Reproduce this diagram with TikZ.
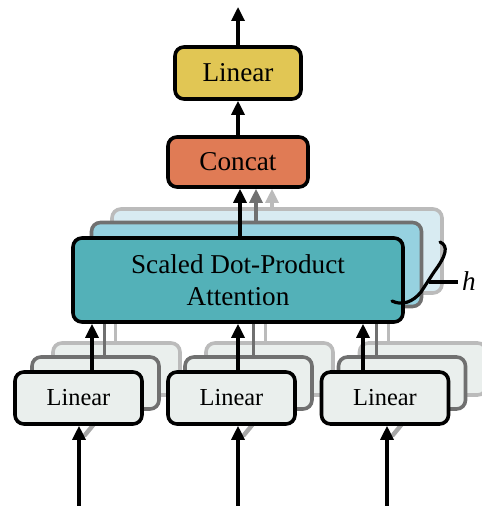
\documentclass[tikz,border=0pt]{standalone}
\usepackage{fontspec}
\setmainfont{Liberation Serif}
\usetikzlibrary{arrows.meta,calc}
\definecolor{linY}{HTML}{E1C654}
\definecolor{concatO}{HTML}{E07B55}
\definecolor{attF}{HTML}{53B1B8}
\definecolor{attM}{HTML}{96D1E0}
\definecolor{attB}{HTML}{D8EBF2}
\definecolor{lowF}{HTML}{EAEFED}
\definecolor{greyM}{HTML}{707070}
\definecolor{greyL}{HTML}{BBBBBB}
\begin{document}
\begin{tikzpicture}[x=0.5pt,y=-0.5pt,
  box/.style={draw, rounded corners=4.5pt, inner sep=0pt, line width=1.8pt},
  bigtxt/.style={font=\fontsize{13.6pt}{16pt}\selectfont},
  lowtxt/.style={font=\fontsize{12.2pt}{14pt}\selectfont},
  lowbox/.style={box, fill=lowF, minimum width=63.5pt, minimum height=26pt},
  attbox/.style={box, minimum width=165pt, minimum height=42pt},
  arr/.style={line width=1.6pt, -{Triangle[length=7pt,width=6.5pt]}},
  ln/.style={line width=1.5pt},
  smudge/.style={line width=2.2pt, black, opacity=0.35, line cap=round}
]
\useasboundingbox (0,0) rectangle (481,506);

% ---------- lower back Linear boxes ----------
\foreach \i/\x in {1/116.5, 2/269.5, 3/423} {
  \node[lowbox, draw=greyL] (lb\i) at (\x,369) {};
}
\coordinate (xb1) at (115,0);
\coordinate (xb2) at (265,0);
\coordinate (xb3) at (388,0);
% ---------- lower middle Linear boxes ----------
\foreach \i/\x in {1/95.5, 2/248.5, 3/402} {
  \node[lowbox, draw=greyM] (lm\i) at (\x,383) {};
}
\coordinate (xm1) at (104,0);
\coordinate (xm2) at (253,0);
\coordinate (xm3) at (376,0);

% attention boxes
\path (277,251) node[attbox, draw=greyL, fill=attB] (attb) {};
\draw[ln, greyL] (lb1.north -| xb1) -- (attb.south -| xb1);
\draw[ln, greyL] (lb2.north -| xb2) -- (attb.south -| xb2);
\draw[ln, greyL] (lb3.north -| xb3) -- (attb.south -| xb3);
\path (256.5,264.5) node[attbox, draw=greyM, fill=attM] (attm) {};
\draw[ln, greyM] (lm1.north -| xm1) -- (attm.south -| xm1);
\draw[ln, greyM] (lm2.north -| xm2) -- (attm.south -| xm2);
\draw[ln, greyM] (lm3.north -| xm3) -- (attm.south -| xm3);
\node[attbox, draw=black, fill=attF, bigtxt, align=center] (attf) at (238,280)
  {Scaled Dot-Product\\Attention};

% ---------- top part ----------
\node[box, fill=linY, minimum width=63pt, minimum height=26pt, bigtxt] (lintop) at (238,73) {Linear};
\node[box, fill=concatO, minimum width=70pt, minimum height=25pt, bigtxt] (concat) at (238,162) {Concat};
\coordinate (out) at (238,7);
\draw[arr] (lintop.north) -- (out);
\draw[arr] (concat.north) -- (lintop.south);
\coordinate (c1) at (240,0);
\coordinate (c2) at (256,0);
\coordinate (c3) at (272,0);
\draw[arr, greyL] (attb.north -| c3) -- (concat.south -| c3);
\draw[arr, greyM] (attm.north -| c2) -- (concat.south -| c2);
\draw[arr] (attf.north -| c1) -- (concat.south -| c1);

% ---------- h brace ----------
\coordinate (hb1) at (392,301);
\coordinate (hb2) at (440,242);
\coordinate (ht) at (458,282);
\coordinate (hm) at (429,282);
\draw[ln, line width=1.6pt, line cap=round] (hb1) .. controls (402,306) and (413,302) .. (421,292)
   -- (434,272) .. controls (446,256) and (449,246) .. (hb2);
\draw[ln, line width=1.6pt] (hm) -- (ht);
\node[font=\fontsize{13.6pt}{16pt}\selectfont\itshape] (hlab) at (469,281) {h};

% ---------- lower front Linear boxes ----------
\foreach \i/\x in {1/78.5, 2/231.5, 3/385} {
  \node[lowbox, draw=black, lowtxt] (lf\i) at (\x,398) {Linear};
}
\coordinate (xf1) at (92,0);
\coordinate (xf2) at (238,0);
\coordinate (xf3) at (363,0);
\foreach \i in {1,2,3} {
  \draw[arr] (lf\i.north -| xf\i) -- (attf.south -| xf\i);
}
% inputs
\coordinate (in1) at (79,506);
\coordinate (in2) at (238,506);
\coordinate (in3) at (387,506);
\foreach \i in {1,2,3} {
  \draw[smudge] ($(in\i)+(6,-71)$) -- ($(in\i)+(15,-82)$);
  \draw[arr] (in\i) -- (lf\i.south -| in\i);
}
\end{tikzpicture}
\end{document}
